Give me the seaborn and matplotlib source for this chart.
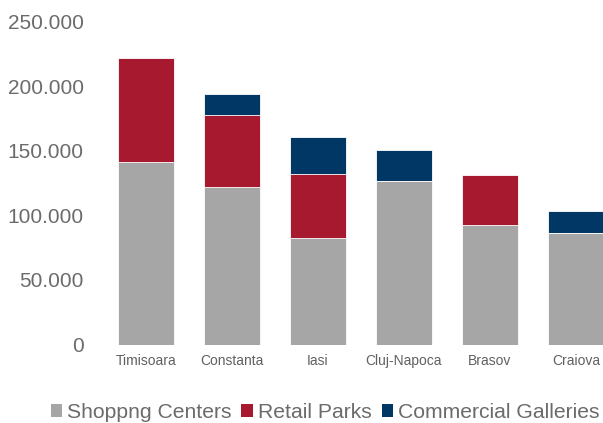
import matplotlib
matplotlib.use("Agg")
import matplotlib.pyplot as plt
import seaborn as sns
import numpy as np
import pandas as pd
from matplotlib.patches import Patch

cities = ["Timisoara", "Constanta", "Iasi", "Cluj-Napoca", "Brasov", "Craiova"]
shopping_centers = [141.3, 121.7, 82.7, 126.9, 92.3, 86.4]
retail_parks = [80.8, 55.8, 49.3, 0.0, 39.2, 0.0]
commercial_galleries = [0.0, 16.3, 28.5, 24.0, 0.0, 16.8]
series_names = ["Shoppng Centers", "Retail Parks", "Commercial Galleries"]
colors = ["#A6A6A6", "#A6192E", "#003764"]
yticks = [0, 50, 100, 150, 200, 250]
ytick_labels = ["0", "50.000", "100.000", "150.000", "200.000", "250.000"]

sns.set_style("white")
plt.rcParams["font.family"] = ["Liberation Sans", "DejaVu Sans"]

sc = np.array(shopping_centers)
rp = np.array(retail_parks)
cg = np.array(commercial_galleries)

df = pd.DataFrame({
    "city": cities,
    "total": sc + rp + cg,
    "sc_rp": sc + rp,
    "sc": sc,
})

fig = plt.figure(figsize=(6.03, 4.23), dpi=100)
ax = fig.add_axes([103 / 603, (423 - 344.5) / 423, 500 / 603, (344.5 - 21.7) / 423])

for col, c in zip(["total", "sc_rp", "sc"], [colors[2], colors[1], colors[0]]):
    sns.barplot(data=df, x="city", y=col, color=c, width=0.66, ax=ax,
                edgecolor="white", linewidth=0.6, saturation=1)

ax.set_ylim(0, 250)
ax.set_xlim(-0.5, (603 - 146) / 86)
ax.set_yticks(yticks)
ax.set_yticklabels(ytick_labels)
ax.set_xlabel("")
ax.set_ylabel("")
for s in ax.spines.values():
    s.set_visible(False)
ax.tick_params(axis="y", length=0, pad=14, labelsize=15, labelcolor="#6b6b6b")
ax.tick_params(axis="x", length=0, pad=7, labelsize=10, labelcolor="#606060")

handles = [Patch(facecolor=c, edgecolor="none") for c in colors]
fig.legend(handles, series_names, loc="center", bbox_to_anchor=(325 / 603, 1 - 412.5 / 423),
           ncol=3, frameon=False, fontsize=15.2, labelcolor="#6b6b6b",
           handlelength=0.53, handleheight=0.53, handletextpad=0.24,
           columnspacing=0.48, borderpad=0, borderaxespad=0)

fig.savefig("out.png", dpi=100)
